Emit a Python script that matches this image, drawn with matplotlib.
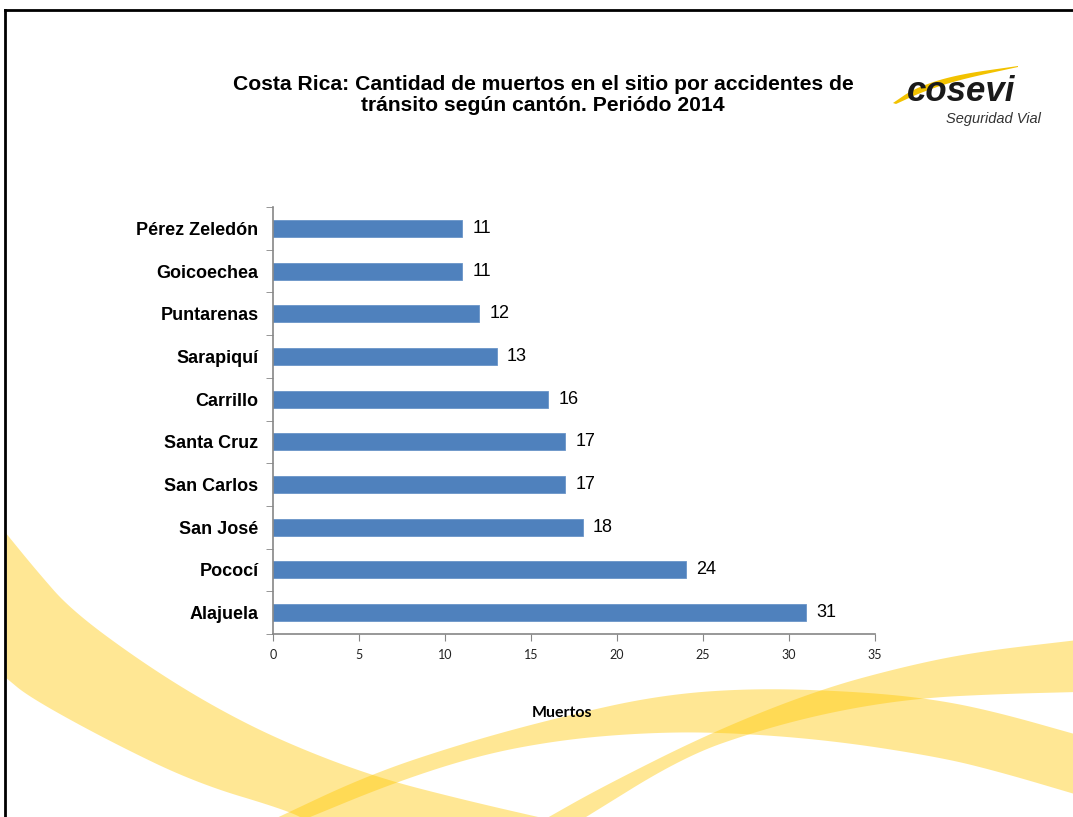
import numpy as np
import matplotlib.pyplot as plt
from matplotlib.patches import Polygon
from matplotlib.lines import Line2D

# data
cantones = ['Pérez Zeledón', 'Goicoechea', 'Puntarenas', 'Sarapiquí', 'Carrillo',
            'Santa Cruz', 'San Carlos', 'San José', 'Pococí', 'Alajuela']
muertos = [11, 11, 12, 13, 16, 17, 17, 18, 24, 31]
x_ticks = [0, 5, 10, 15, 20, 25, 30, 35]

W, H = 1073, 817
fig = plt.figure(figsize=(W / 100, H / 100), dpi=100)
fig.patch.set_facecolor('white')

# background decoration in pixel coords
bg = fig.add_axes([0, 0, 1, 1], zorder=0)
bg.set_xlim(0, W)
bg.set_ylim(H, 0)
bg.axis('off')


def smooth(pts, n=4):
    # chaikin corner cutting, keeps end points
    p = np.array(pts, dtype=float)
    for _ in range(n):
        q = 0.75 * p[:-1] + 0.25 * p[1:]
        r = 0.25 * p[:-1] + 0.75 * p[1:]
        mid = np.empty((2 * len(q), 2))
        mid[0::2] = q
        mid[1::2] = r
        p = np.vstack([p[:1], mid, p[-1:]])
    return p


def band(upper, lower, color, alpha):
    up = smooth(upper)
    lo = smooth(lower)
    pts = np.vstack([up, lo[::-1]])
    bg.add_patch(Polygon(pts, closed=True, facecolor=color, edgecolor='none', alpha=alpha))


band_color = '#FFC800'
band([(5, 532), (36, 570), (71, 610), (143, 663), (214, 707), (286, 743), (375, 777),
      (464, 800), (560, 822)],
     [(5, 677), (29, 697), (107, 740), (196, 783), (286, 810), (310, 822)],
     band_color, 0.42)
band([(268, 822), (368, 775), (464, 743), (560, 717), (660, 695), (756, 688),
      (865, 692), (939, 700), (1000, 713), (1078, 735)],
     [(298, 822), (393, 783), (480, 755), (560, 740), (640, 733), (719, 732),
      (829, 740), (939, 757), (1000, 772), (1078, 795)],
     band_color, 0.42)
band([(540, 822), (600, 788), (712, 732), (818, 690), (902, 667), (975, 652), (1078, 640)],
     [(578, 822), (683, 757), (760, 730), (840, 710), (920, 698), (1000, 694), (1078, 692)],
     band_color, 0.42)

# frame lines
fig.add_artist(Line2D([5 / W, 5 / W], [0, 1 - 10 / H], color='black', lw=2))
fig.add_artist(Line2D([5 / W, 1], [1 - 10 / H, 1 - 10 / H], color='black', lw=2))

# logo
band([(893, 103), (915, 88), (955, 75), (1018, 66)],
     [(896, 104), (922, 92), (958, 80), (1018, 67)],
     '#F2C200', 1.0)
bg.text(961, 91, 'cosevi', fontsize=25, fontweight='bold', style='italic',
        family='Liberation Sans', ha='center', va='center', color='#1a1a1a')
bg.text(993, 119, 'Seguridad Vial', fontsize=10.5, style='italic',
        family='Liberation Sans', ha='center', va='center', color='#333333')

# title
fig.text(543 / W, 1 - 95 / H,
         'Costa Rica: Cantidad de muertos en el sitio por accidentes de\ntránsito según cantón. Periódo 2014',
         ha='center', va='center', fontsize=15.2, fontweight='bold', family='Liberation Sans',
         linespacing=1.15)

# chart
ax = fig.add_axes([273 / W, 1 - 634 / H, (875 - 273) / W, (634 - 207) / H], zorder=1)
ax.set_facecolor('none')
y = list(range(len(cantones)))[::-1]
ax.barh(y, muertos, height=0.4, color='#4F81BD', edgecolor='#6A94C8', linewidth=0.6)
for yi, v in zip(y, muertos):
    ax.text(v + 0.6, yi, str(v), va='center', ha='left', fontsize=13, family='Liberation Sans')

ax.set_xlim(0, 35)
ax.set_ylim(-0.5, len(cantones) - 0.5)
ax.set_xticks(x_ticks)
ax.set_xticklabels([str(t) for t in x_ticks], family='Lato', fontsize=9, color='#222222')
ax.set_yticks(y)
ax.set_yticklabels(cantones, fontsize=13, fontweight='bold', family='Liberation Sans')
ax.set_yticks([i - 0.5 for i in range(len(cantones) + 1)], minor=True)
ax.tick_params(axis='y', which='major', length=0, pad=10.5)
ax.tick_params(axis='y', which='minor', length=5, color='#868686', direction='out')
ax.tick_params(axis='x', length=5, color='#868686', direction='out', pad=6)
for s in ('top', 'right'):
    ax.spines[s].set_visible(False)
for s in ('left', 'bottom'):
    ax.spines[s].set_color('#868686')
    ax.spines[s].set_linewidth(1.2)

fig.text(562 / W, 1 - 713 / H, 'Muertos', ha='center', va='center',
         fontsize=11.5, fontweight='bold', family='Lato')

fig.savefig('out.png', dpi=100)
